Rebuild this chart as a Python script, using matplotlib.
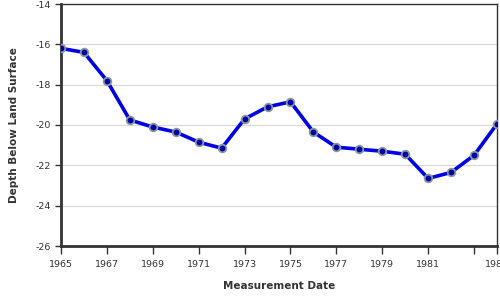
import matplotlib
matplotlib.use("Agg")
import matplotlib.pyplot as plt

years = list(range(1965, 1985))
depths = [-16.2, -16.4, -17.8, -19.75, -20.1, -20.35, -20.85, -21.15, -19.7, -19.1,
          -18.85, -20.35, -21.1, -21.2, -21.3, -21.45, -22.65, -22.35, -21.5, -19.95]
xticks = [1965, 1967, 1969, 1971, 1973, 1975, 1977, 1979, 1981, 1983, 1984]
xticklabels = ["1965", "1967", "1969", "1971", "1973", "1975", "1977", "1979", "1981", "", "1984"]
yticks = [-26, -24, -22, -20, -18, -16, -14]

plt.rcParams['font.family'] = ['DejaVu Sans']
fig = plt.figure(figsize=(5, 3), dpi=100)
ax = fig.add_axes([61/500, 1-246/300, (497-61)/500, (246-4)/300])

ax.plot(years, depths, color='#0000e6', lw=2.6, zorder=3)
ax.plot(years, depths, ls='none', marker='o', ms=5.5, mfc='#0000aa',
        mec='#8a9a9a', mew=1.3, zorder=4)

ax.set_xlim(1965, 1984)
ax.set_ylim(-26, -14)
ax.set_xticks(xticks)
ax.set_xticklabels(xticklabels)
ax.set_yticks(yticks)
ax.set_yticklabels([str(v) for v in yticks])
ax.grid(axis='y', color='#d9d9d9', lw=0.9)
ax.set_axisbelow(True)

for s in ['left', 'bottom']:
    ax.spines[s].set_linewidth(2)
    ax.spines[s].set_color('#333333')
for s in ['top', 'right']:
    ax.spines[s].set_linewidth(1)
    ax.spines[s].set_color('#333333')

ax.tick_params(axis='both', labelsize=6.8, colors='#333333', length=4, width=1, pad=3)
ax.tick_params(axis='x', length=6, pad=4)
ax.set_xlabel('Measurement Date', fontsize=7.5, fontweight='bold', color='#333333', labelpad=9)
ax.set_ylabel('Depth Below Land Surface', fontsize=7.5, fontweight='bold', color='#333333', labelpad=12)

fig.savefig('out.png', dpi=100)
